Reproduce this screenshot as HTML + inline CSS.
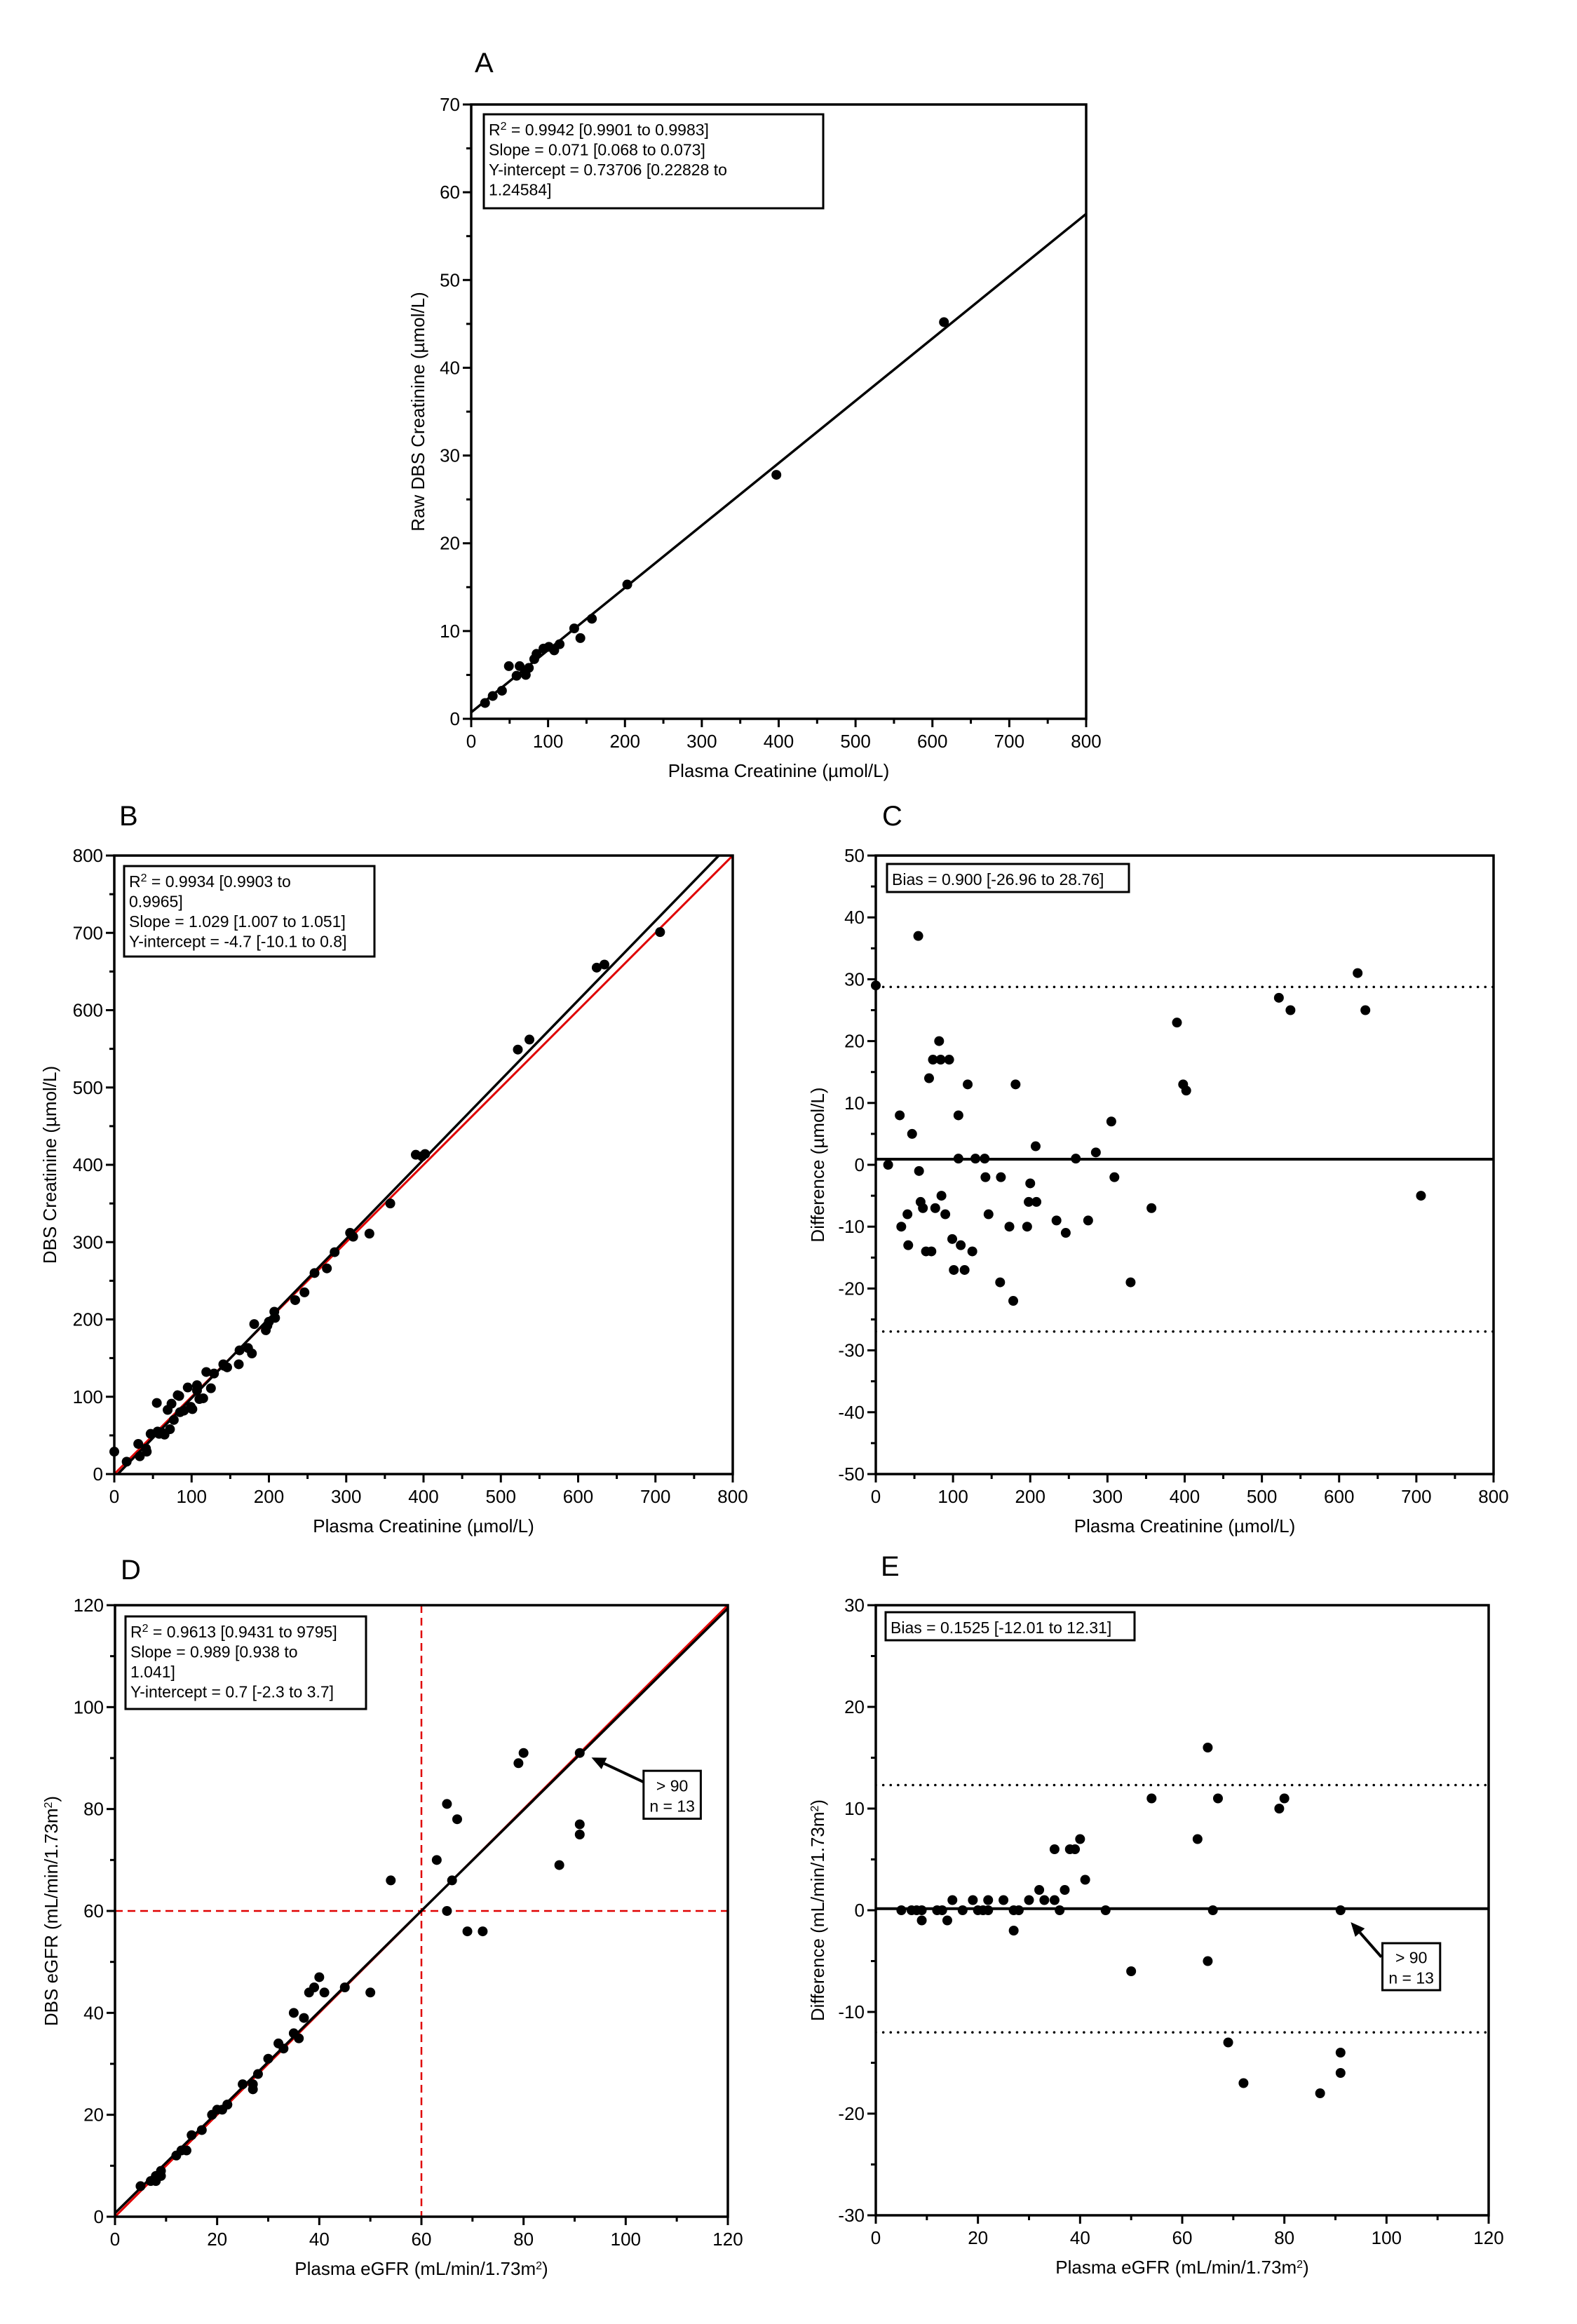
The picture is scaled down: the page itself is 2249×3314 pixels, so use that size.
<!DOCTYPE html>
<html><head><meta charset="utf-8"><style>
html,body{margin:0;padding:0;background:#fff;}
svg{display:block;font-family:"Liberation Sans",Arial,sans-serif;}
</style></head><body>
<svg id="fig" width="2249" height="3314" viewBox="0 0 2249 3314" xmlns="http://www.w3.org/2000/svg">
<rect width="2249" height="3314" fill="#fff"/>
</svg>
<script>
// ---- Panel A data ----
const aX = [18,28,40,49,59,63,71,75,82,85,94,101,108,115,134,142,157,203,397,615];
const aY = [1.8,2.6,3.2,6,4.9,6,5,5.8,6.8,7.4,8,8.2,7.8,8.5,10.3,9.2,11.4,15.3,27.8,45.2];
const aSlope = 0.071, aIntercept = 0.73706;
// ---- Panel B data ----
const bX = [0,16,31,33,41,42,47,55,56,58,61,65,69,72,74,77,82,84,85,90,95,99,101,107,107,110,115,119,125,129,141,142,146,161,162,173,178,181,196,198,200,207,208,234,246,259,275,285,305,309,330,357,390,398,402,522,537,624,634,706];
const bY = [29,16,39,23,33,29,52,92,55,52,54,51,83,58,91,70,102,101,80,82,112,87,84,115,108,97,98,132,111,130,142,140,138,142,160,163,156,194,186,192,197,210,202,225,235,260,266,287,312,307,311,350,413,411,414,549,562,655,659,701];
const bSlope = 1.029, bIntercept = -4.7;
// ---- Panel C data ----
const cX = [0,16,31,33,41,42,47,55,56,58,61,65,69,72,74,77,82,84,85,90,95,99,101,107,107,110,115,119,125,129,141,142,146,161,162,173,178,181,196,198,200,207,208,234,246,259,275,285,305,309,330,357,390,398,402,522,537,624,634,706];
const cY = [29,0,8,-10,-8,-13,5,37,-1,-6,-7,-14,14,-14,17,-7,20,17,-5,-8,17,-12,-17,8,1,-13,-17,13,-14,1,1,-2,-8,-19,-2,-10,-22,13,-10,-6,-3,3,-6,-9,-11,1,-9,2,7,-2,-19,-7,23,13,12,27,25,31,25,-5];
const cBias = 0.9, cLow = -26.96, cHigh = 28.76;
// ---- Panel D data ----
const dX = [5,7,8,8,9,9,12,13,14,15,17,19,20,21,22,22,25,27,27,28,30,32,33,35,35,36,37,38,39,40,41,45,50,54,63,65,65,66,67,69,72,79,80,87,91,91,91];
const dY = [6,7,8,7,8,9,12,13,13,16,17,20,21,21,22,22,26,25,26,28,31,34,33,40,36,35,39,44,45,47,44,45,44,66,70,81,60,66,78,56,56,89,91,69,91,77,75];
const dSlope = 0.989, dIntercept = 0.7;
// ---- Panel E data ----
const eX = [5,7,8,9,9,12,13,14,15,17,19,20,21,22,22,25,27,27,28,30,32,33,35,35,36,37,38,39,40,41,45,50,54,63,65,65,66,67,69,72,79,80,87,91,91,91];
const eY = [0,0,0,-1,0,0,0,-1,1,0,1,0,0,1,0,1,-2,0,0,1,2,1,6,1,0,2,6,6,7,3,0,-6,11,7,16,-5,0,11,-13,-17,10,11,-18,0,-14,-16];
const eBias = 0.1525, eLow = -12.01, eHigh = 12.31;

const NS = "http://www.w3.org/2000/svg";
const svg = document.getElementById('fig');
function el(tag, attrs, parent) {
  const e = document.createElementNS(NS, tag);
  for (const k in attrs) e.setAttribute(k, attrs[k]);
  (parent || svg).appendChild(e);
  return e;
}
function panel(cfg) {
  const g = el('g', {});
  
  
  const sx = v => cfg.L + (v - cfg.x0) / (cfg.x1 - cfg.x0) * (cfg.R - cfg.L);
  const sy = v => cfg.B - (v - cfg.y0) / (cfg.y1 - cfg.y0) * (cfg.B - cfg.T);
  cfg.sx = sx; cfg.sy = sy;
  const lt = el('text', {x: cfg.lx, y: cfg.ly, 'font-size': 40}, g);
  lt.textContent = cfg.letter;
  
  
  const cp = el('clipPath', {id: 'clip' + cfg.id}, g);
  el('rect', {x: cfg.L, y: cfg.T, width: cfg.R - cfg.L, height: cfg.B - cfg.T}, cp);
  const plot = el('g', {'clip-path': 'url(#clip' + cfg.id + ')'}, g);
  
  
  cfg.plot = plot;
  for (let v = cfg.x0; v <= cfg.x1 + 1e-9; v += cfg.xminor) {
    const major = Math.abs(((v - cfg.x0) / cfg.xmajor) - Math.round((v - cfg.x0) / cfg.xmajor)) < 1e-6;
    el('line', {x1: sx(v), x2: sx(v), y1: cfg.B, y2: cfg.B + (major ? 12 : 7), stroke: '#000', 'stroke-width': 3}, g);
    if (major) {
      const t = el('text', {x: sx(v), y: cfg.B + 41, 'font-size': 26, 'text-anchor': 'middle'}, g);
      t.textContent = String(Math.round(v));
      
      
    }
  }
  for (let v = cfg.y0; v <= cfg.y1 + 1e-9; v += cfg.yminor) {
    const major = Math.abs(((v - cfg.y0) / cfg.ymajor) - Math.round((v - cfg.y0) / cfg.ymajor)) < 1e-6;
    el('line', {x1: cfg.L - (major ? 12 : 7), x2: cfg.L, y1: sy(v), y2: sy(v), stroke: '#000', 'stroke-width': 3}, g);
    if (major) {
      const t = el('text', {x: cfg.L - 16, y: sy(v) + 9, 'font-size': 26, 'text-anchor': 'end'}, g);
      t.textContent = String(Math.round(v));
      
      
    }
  }
  const xt = el('text', {x: (cfg.L + cfg.R) / 2, y: cfg.B + 83, 'font-size': 26, 'text-anchor': 'middle'}, g);
  xt.innerHTML = cfg.xtitle;
  
  
  const yc = (cfg.T + cfg.B) / 2, xc = cfg.L - cfg.ytOff;
  const yt = el('text', {x: xc, y: yc, 'font-size': 26, 'text-anchor': 'middle', transform: 'rotate(-90 ' + xc + ' ' + yc + ')'}, g);
  yt.innerHTML = cfg.ytitle;
  
  
  cfg.g = g;
  return cfg;
}
function frame(cfg) {
  const f = el('rect', {x: cfg.L, y: cfg.T, width: cfg.R - cfg.L, height: cfg.B - cfg.T, fill: 'none', stroke: '#000', 'stroke-width': 3.5}, cfg.g);
  
  
}
function dots(cfg, xs, ys) {
  for (let i = 0; i < xs.length; i++) {
    const c = el('circle', {cx: cfg.sx(xs[i]), cy: cfg.sy(ys[i]), r: 7, fill: '#000'}, cfg.g);
    
    
  }
}
function fitLine(cfg, slope, icpt, color, w, name) {
  const l = el('line', {x1: cfg.sx(cfg.x0), y1: cfg.sy(icpt + slope * cfg.x0), x2: cfg.sx(cfg.x1), y2: cfg.sy(icpt + slope * cfg.x1), stroke: color, 'stroke-width': w}, cfg.plot);
  
  
}
function hline(cfg, v, dash, name) {
  const l = el('line', {x1: cfg.L, x2: cfg.R, y1: cfg.sy(v), y2: cfg.sy(v), stroke: '#000', 'stroke-width': dash ? 3.5 : 4, 'stroke-dasharray': dash || 'none', 'stroke-linecap': dash ? 'round' : 'butt'}, cfg.plot);
  
  
}
function box(cfg, dx, dy, w, h, lines, name) {
  const x = cfg.L + dx, y = cfg.T + dy;
  const bg = el('g', {}, cfg.g);
  
  
  el('rect', {x: x, y: y, width: w, height: h, fill: '#fff', stroke: '#000', 'stroke-width': 3}, bg);
  lines.forEach((s, i) => {
    const t = el('text', {x: x + 7, y: y + 30 + i * 28.5, 'font-size': 23}, bg);
    t.innerHTML = s;
  });
}
// annotation in data coordinates
function annot(cfg, tvx, tvy, hvx, hvy, bx0, bx1, by0, by1, name) {
  const tx = cfg.sx(tvx), ty = cfg.sy(tvy), hx = cfg.sx(hvx), hy = cfg.sy(hvy);
  const bx = cfg.sx(bx0), bw = cfg.sx(bx1) - bx, by = cfg.sy(by0), bh = cfg.sy(by1) - by;
  const g = el('g', {});
  
  
  const ang = Math.atan2(hy - ty, hx - tx);
  const bxp = hx - 20 * Math.cos(ang), byp = hy - 20 * Math.sin(ang);
  el('line', {x1: tx, y1: ty, x2: bxp, y2: byp, stroke: '#000', 'stroke-width': 4}, g);
  const px = -Math.sin(ang) * 9, py = Math.cos(ang) * 9;
  el('polygon', {points: hx + ',' + hy + ' ' + (bxp + px) + ',' + (byp + py) + ' ' + (bxp - px) + ',' + (byp - py), fill: '#000'}, g);
  el('rect', {x: bx, y: by, width: bw, height: bh, fill: '#fff', stroke: '#000', 'stroke-width': 3}, g);
  const t1 = el('text', {x: bx + bw / 2, y: by + bh / 2 - 5, 'font-size': 23, 'text-anchor': 'middle'}, g);
  t1.textContent = '> 90';
  const t2 = el('text', {x: bx + bw / 2, y: by + bh / 2 + 24, 'font-size': 23, 'text-anchor': 'middle'}, g);
  t2.textContent = 'n = 13';
}
const SUP = '<tspan baseline-shift="super" font-size="16">2</tspan>';
const creat = 'Plasma Creatinine (µmol/L)';
const egfrX = 'Plasma eGFR (mL/min/1.73m' + SUP + ')';

// Panel A
const A = panel({id: 'a', letter: 'A', lx: 677, ly: 103, L: 672, R: 1549, T: 149, B: 1025, x0: 0, x1: 800, xmajor: 100, xminor: 50, y0: 0, y1: 70, ymajor: 10, yminor: 5, xtitle: creat, ytitle: 'Raw DBS Creatinine (µmol/L)', ytOff: 67});
fitLine(A, aSlope, aIntercept, '#000', 3.5, 'regression-line');
dots(A, aX, aY);
frame(A);
box(A, 18, 14, 484, 134, ['R' + SUP + ' = 0.9942 [0.9901 to 0.9983]', 'Slope = 0.071 [0.068 to 0.073]', 'Y-intercept = 0.73706 [0.22828 to', '1.24584]'], 'stats-box');

// Panel B
const Bp = panel({id: 'b', letter: 'B', lx: 170, ly: 1177, L: 163, R: 1045, T: 1220, B: 2102, x0: 0, x1: 800, xmajor: 100, xminor: 50, y0: 0, y1: 800, ymajor: 100, yminor: 50, xtitle: creat, ytitle: 'DBS Creatinine (µmol/L)', ytOff: 83});
fitLine(Bp, 1, 0, '#e00000', 3, 'identity-line');
fitLine(Bp, bSlope, bIntercept, '#000', 3.5, 'regression-line');
dots(Bp, bX, bY);
frame(Bp);
box(Bp, 14, 15, 357, 129, ['R' + SUP + ' = 0.9934 [0.9903 to', '0.9965]', 'Slope = 1.029 [1.007 to 1.051]', 'Y-intercept = -4.7 [-10.1 to 0.8]'], 'stats-box');

// Panel C
const Cp = panel({id: 'c', letter: 'C', lx: 1258, ly: 1177, L: 1249, R: 2130, T: 1220, B: 2102, x0: 0, x1: 800, xmajor: 100, xminor: 50, y0: -50, y1: 50, ymajor: 10, yminor: 5, xtitle: creat, ytitle: 'Difference (µmol/L)', ytOff: 74});
hline(Cp, cHigh, '0.1 10.5', 'upper-limit-line');
hline(Cp, cLow, '0.1 10.5', 'lower-limit-line');
hline(Cp, cBias, null, 'bias-line');
dots(Cp, cX, cY);
frame(Cp);
box(Cp, 16, 12, 345, 40, ['Bias = 0.900 [-26.96 to 28.76]'], 'bias-box');

// Panel D
const Dp = panel({id: 'd', letter: 'D', lx: 172, ly: 2252, L: 164, R: 1038, T: 2289, B: 3161, x0: 0, x1: 120, xmajor: 20, xminor: 10, y0: 0, y1: 120, ymajor: 20, yminor: 10, xtitle: egfrX, ytitle: 'DBS eGFR (mL/min/1.73m' + SUP + ')', ytOff: 82});
(function(){
  const v = el('line', {x1: Dp.sx(60), x2: Dp.sx(60), y1: Dp.T, y2: Dp.B, stroke: '#e00000', 'stroke-width': 2.5, 'stroke-dasharray': '11 7'}, Dp.plot);
  
  
  const h = el('line', {x1: Dp.L, x2: Dp.R, y1: Dp.sy(60), y2: Dp.sy(60), stroke: '#e00000', 'stroke-width': 2.5, 'stroke-dasharray': '11 7'}, Dp.plot);
  
  
})();
fitLine(Dp, 1, 0, '#e00000', 3, 'identity-line');
fitLine(Dp, dSlope, dIntercept, '#000', 3.5, 'regression-line');
dots(Dp, dX, dY);
frame(Dp);
box(Dp, 15, 16, 343, 132, ['R' + SUP + ' = 0.9613 [0.9431 to 9795]', 'Slope = 0.989 [0.938 to', '1.041]', 'Y-intercept = 0.7 [-2.3 to 3.7]'], 'stats-box');
annot(Dp, 103.5, 85.3, 93.3, 90.1, 103.5, 114.7, 87.5, 78.1, 'over-90-annotation');

// Panel E
const Ep = panel({id: 'e', letter: 'E', lx: 1256, ly: 2247, L: 1249, R: 2123, T: 2289, B: 3159, x0: 0, x1: 120, xmajor: 20, xminor: 10, y0: -30, y1: 30, ymajor: 10, yminor: 5, xtitle: egfrX, ytitle: 'Difference (mL/min/1.73m' + SUP + ')', ytOff: 74});
hline(Ep, eHigh, '0.1 10.5', 'upper-limit-line');
hline(Ep, eLow, '0.1 10.5', 'lower-limit-line');
hline(Ep, eBias, null, 'bias-line');
dots(Ep, eX, eY);
frame(Ep);
box(Ep, 14, 10, 355, 40, ['Bias = 0.1525 [-12.01 to 12.31]'], 'bias-box');
annot(Ep, 99.0, -4.6, 93.0, -1.17, 99.2, 110.5, -3.24, -7.86, 'over-90-annotation');
</script>
</body></html>
